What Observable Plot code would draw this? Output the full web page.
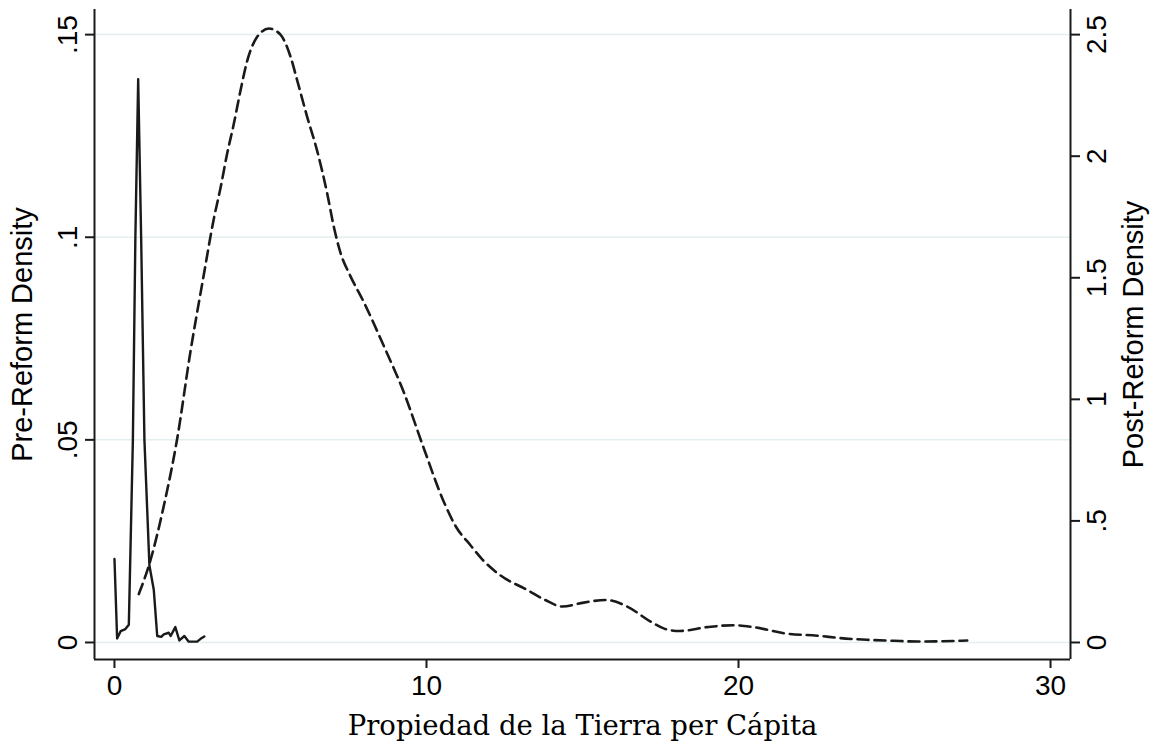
<!DOCTYPE html>
<html>
<head>
<meta charset="utf-8">
<script src="https://cdn.jsdelivr.net/npm/d3@7"></script>
<script src="https://cdn.jsdelivr.net/npm/@observablehq/plot@0.6"></script>
<style>
  html, body { margin: 0; padding: 0; background: #fff; }
  #chart svg { display: block; }
</style>
</head>
<body>
<div id="chart"></div>
<script>
// ---- Data ----
// Pre-reform kernel density (left axis)
const preX = [0, 0.085, 0.2, 0.35, 0.46, 0.59, 0.67, 0.76, 0.855, 0.96, 1.12, 1.26, 1.37, 1.5, 1.58, 1.74, 1.8, 1.95, 2.08, 2.24, 2.38, 2.5, 2.65, 2.76, 2.88];
const preY = [0.0206, 0.001, 0.0028, 0.0033, 0.0044, 0.05, 0.1, 0.139, 0.1, 0.05, 0.019, 0.013, 0.0016, 0.0014, 0.002, 0.0024, 0.0016, 0.0038, 0.0005, 0.0016, 0.0002, 0.0002, 0.0002, 0.0009, 0.0015];

// Post-reform kernel density (right axis)
const postX = [0.78, 1.15, 1.58, 2.01, 2.44, 2.86, 3.18, 3.40, 3.61, 3.82, 4.04, 4.25, 4.57, 4.95, 5.32, 5.64, 5.86, 6.18, 6.50, 6.82, 7.03, 7.25, 7.55, 7.99, 8.63, 9.27, 9.91, 10.55, 10.95, 11.41, 11.8, 12.37, 13.23, 13.8, 14.35, 15.04, 15.75, 16.43, 17.18, 17.6, 18.1, 18.99, 19.84, 20.48, 21.56, 22.52, 23.27, 24.12, 24.98, 25.73, 26.47, 27.33];
const postY = [0.199, 0.337, 0.561, 0.838, 1.20, 1.51, 1.74, 1.87, 2.01, 2.13, 2.27, 2.39, 2.49, 2.525, 2.50, 2.41, 2.31, 2.16, 2.02, 1.845, 1.71, 1.60, 1.51, 1.40, 1.22, 1.03, 0.80, 0.58, 0.475, 0.40, 0.34, 0.276, 0.216, 0.175, 0.148, 0.164, 0.175, 0.148, 0.086, 0.058, 0.047, 0.063, 0.071, 0.063, 0.036, 0.028, 0.018, 0.011, 0.007, 0.004, 0.005, 0.008];

// Axes
const xTicks = [0, 10, 20, 30];
const xTickLabels = ["0", "10", "20", "30"];
const leftTicks = [0, 0.05, 0.1, 0.15];
const leftTickLabels = ["0", ".05", ".1", ".15"];
const rightTicks = [0, 0.5, 1, 1.5, 2, 2.5];
const rightTickLabels = ["0", ".5", "1", "1.5", "2", "2.5"];
const leftMax = 0.15, rightMax = 2.5;
const xLimits = [-0.64, 30.64];
const yLimits = [-0.0042, 0.1562];

const xTitle = "Propiedad de la Tierra per Cápita";
const leftTitle = "Pre-Reform Density";
const rightTitle = "Post-Reform Density";

// ---- Build ----
const K = leftMax / rightMax; // right-axis -> left-axis scale
const pre = preX.map((x, i) => ({x, y: preY[i]}));
const post = postX.map((x, i) => ({x, y: postY[i]}));

const ink = "#1a1a1a";
const fs = 28;
const txt = {textAnchor: "middle", lineAnchor: "middle", fill: "#000"};

const chart = Plot.plot({
  width: 1159,
  height: 751,
  marginLeft: 94,
  marginRight: 89,
  marginTop: 9,
  marginBottom: 92,
  style: {fontFamily: "'Liberation Sans', Arial, sans-serif", fontSize: fs + "px", color: "#000", background: "#fff"},
  x: {domain: xLimits},
  y: {domain: yLimits},
  marks: [
    Plot.gridY(leftTicks, {stroke: "#e3eef0", strokeOpacity: 1, strokeWidth: 1.5}),
    // axis lines
    Plot.ruleX([xLimits[0], xLimits[1]], {stroke: ink, strokeWidth: 2}),
    Plot.ruleY([yLimits[0]], {stroke: ink, strokeWidth: 2}),
    // tick marks
    Plot.axisX(xTicks, {anchor: "bottom", tickSize: 9, tickFormat: () => "", label: null, stroke: ink, strokeWidth: 2}),
    Plot.axisY(leftTicks, {anchor: "left", tickSize: 9, tickFormat: () => "", label: null, stroke: ink, strokeWidth: 2}),
    Plot.axisY(rightTicks.map(v => v * K), {anchor: "right", tickSize: 9, tickFormat: () => "", label: null, stroke: ink, strokeWidth: 2}),
    // tick labels
    Plot.text(xTicks, {...txt, x: d => d, text: (d, i) => xTickLabels[i], frameAnchor: "bottom", dy: 27, fontSize: fs}),
    Plot.text(leftTicks, {...txt, y: d => d, text: (d, i) => leftTickLabels[i], frameAnchor: "left", dx: -26, rotate: -90, fontSize: fs}),
    Plot.text(rightTicks, {...txt, y: d => d * K, text: (d, i) => rightTickLabels[i], frameAnchor: "right", dx: 27, rotate: -90, fontSize: fs}),
    // axis titles
    Plot.text([leftTitle], {...txt, text: d => d, frameAnchor: "left", dx: -72, rotate: -90, fontSize: 29}),
    Plot.text([rightTitle], {...txt, text: d => d, frameAnchor: "right", dx: 63, rotate: -90, fontSize: 29}),
    Plot.text([xTitle], {...txt, text: d => d, frameAnchor: "bottom", dy: 67, fontSize: 27.5, fontFamily: "'DejaVu Serif', Georgia, serif"}),
    // data
    Plot.line(post, {x: "x", y: d => d.y * K, stroke: ink, strokeWidth: 2.6, strokeDasharray: "11,6", curve: "monotone-x"}),
    Plot.line(pre, {x: "x", y: "y", stroke: ink, strokeWidth: 2.4, curve: "linear", strokeLinejoin: "round"})
  ]
});
document.getElementById("chart").append(chart);
</script>
</body>
</html>
